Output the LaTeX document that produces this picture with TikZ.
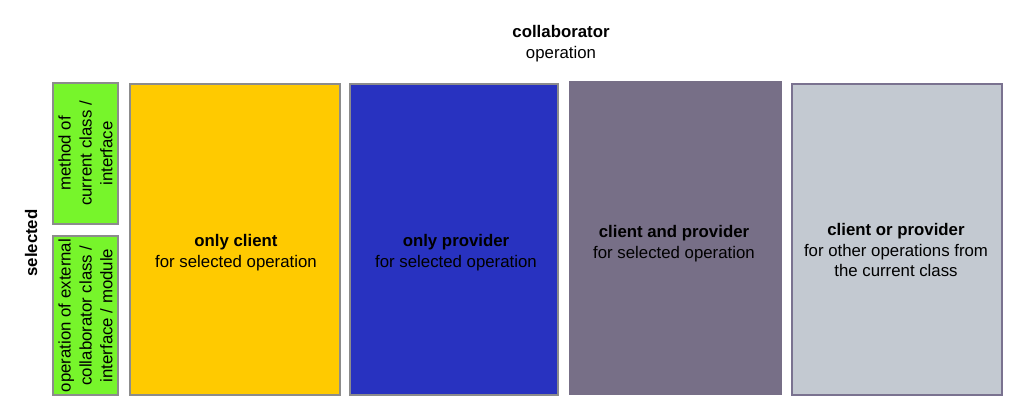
\documentclass[tikz,border=0pt]{standalone}
\usepackage{fontspec}
\setmainfont{Liberation Sans}
\definecolor{cgreen}{HTML}{77F52B}
\definecolor{cyellow}{HTML}{FFCA00}
\definecolor{cblue}{HTML}{2832C0}
\definecolor{cdark}{HTML}{776F87}
\definecolor{clight}{HTML}{C3C9D1}
\definecolor{cborder}{HTML}{8C8C8C}
\definecolor{clborder}{HTML}{7A7290}
\begin{document}
\begin{tikzpicture}[x=1bp,y=-1bp,
  every node/.style={font=\fontsize{16.8bp}{20.8bp}\selectfont, inner sep=0pt, align=center},
  box/.style={draw=cborder, line width=2bp},
  sidebox/.style={box, fill=cgreen, minimum width=65bp},
  bigbox/.style={box, minimum width=210bp, minimum height=311bp}]
\useasboundingbox (0,0) rectangle (1024,418);
\node (coll) at (561,44) {\textbf{collaborator}\\operation};
\node[rotate=90] (sel) at (31,243) {\textbf{selected}};
\node[sidebox, minimum height=141bp] (g1) at (85.5,153.5) {};
\node[rotate=90] (g1t) at (g1.center) {method of\\current class /\\interface};
\node[sidebox, minimum height=159bp] (g2) at (85.5,315.5) {};
\node[rotate=90] (g2t) at (g2.center) {operation of external\\collaborator class /\\interface / module};
\node[bigbox, fill=cyellow] (yel) at (235,239.5) {};
\node (yelt) at (236,252.5) {\textbf{only client}\\for selected operation};
\node[bigbox, fill=cblue, minimum width=208bp] (blu) at (454,239.5) {};
\node (blut) at (456,252.5) {\textbf{only provider}\\for selected operation};
\node[bigbox, fill=cdark, draw=cdark, minimum height=312bp, minimum width=211bp] (drk) at (675.5,237.5) {};
\node (drkt) at (674,243.5) {\textbf{client and provider}\\for selected operation};
\node[bigbox, fill=clight, draw=clborder] (lgt) at (897,239) {};
\node (lgtt) at (896,250) {\textbf{client or provider}\\for other operations from\\the current class};
\end{tikzpicture}
\end{document}
